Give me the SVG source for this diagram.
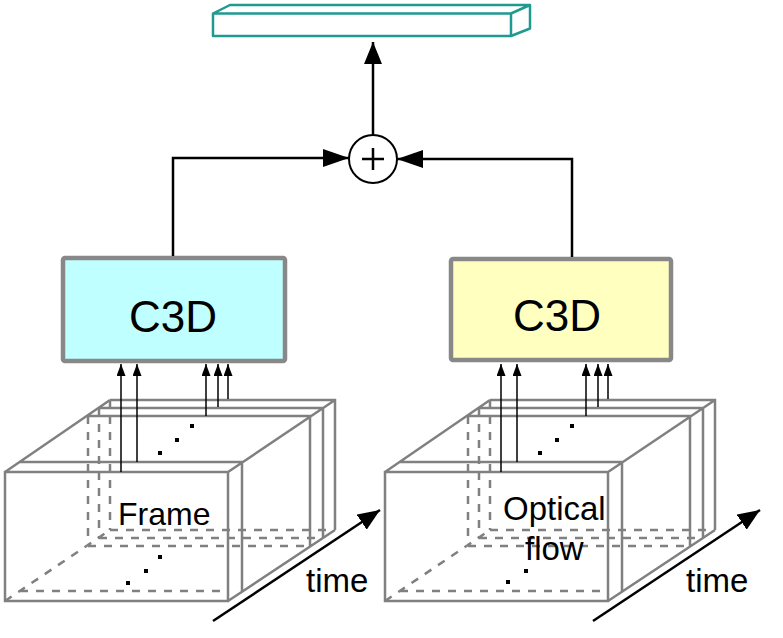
<svg xmlns="http://www.w3.org/2000/svg" xmlns:xlink="http://www.w3.org/1999/xlink" width="783" height="638" viewBox="0 0 783 638">
<style>
.cube{fill:none;stroke:#808080;stroke-width:2.5}
.hid{fill:none;stroke:#808080;stroke-width:2.5;stroke-dasharray:8 8}
.conn{fill:none;stroke:#000;stroke-width:2.5}
.thin{fill:none;stroke:#000;stroke-width:1.5}
.lbl{font-family:"Liberation Sans",Arial,Helvetica,sans-serif;fill:#000}
.dot{fill:#000}
</style>
<defs>
<marker id="big" markerUnits="userSpaceOnUse" markerWidth="28" markerHeight="20" refX="26" refY="9" orient="auto"><path d="M0,0 L26,9 L0,18 Z" fill="#000"/></marker>
<marker id="up" markerUnits="userSpaceOnUse" markerWidth="24" markerHeight="20" refX="22" refY="9" orient="auto"><path d="M0,0 L22,9 L0,18 Z" fill="#000"/></marker>
<marker id="small" markerUnits="userSpaceOnUse" markerWidth="14" markerHeight="10" refX="12" refY="4.5" orient="auto"><path d="M0,0 L12,4.5 L0,9 Z" fill="#000"/></marker>
<g id="cubeShape">
<path class="hid" d="M20,591 H228 M88,546 H310 M99,538 H323 M110,530 H335 M88,416 V546 M99,408 V538 M110,400 V530 M5,601 L110,530"/>
<path class="cube" d="M5,472 H228 V601 H5 Z M20,462 H242 V592 M88,416 H310 V546 M99,408 H323 V538 M110,400 H335 V530 M5,472 L110,400 M228,472 L335,400 M228,601 L335,530"/>
<rect class="dot" x="190" y="424" width="4" height="4"/>
<rect class="dot" x="175" y="438" width="4" height="4"/>
<rect class="dot" x="158" y="451" width="4" height="4"/>
</g>
</defs>

<g id="output-bar">
<path d="M213,13.5 H511 V36 H213 Z M213,13.5 L230,5 H530 L511,13.5 M530,5 V28.5 L511,36" fill="#fff" stroke="#1f9a90" stroke-width="2.5" stroke-linejoin="round"/>
</g>

<g id="sum">
<circle cx="373" cy="159" r="24" fill="#fff" stroke="#000" stroke-width="2"/>
<path d="M362,159 H384 M373,148 V170" stroke="#000" stroke-width="2.5"/>
</g>

<g id="c3d-rgb">
<rect x="63" y="258" width="222" height="103" rx="2" fill="#bfffff" stroke="#888" stroke-width="4.5"/>
<text class="lbl" x="173" y="332" font-size="44" text-anchor="middle">C3D</text>
</g>

<g id="c3d-flow">
<rect x="451" y="259" width="220" height="101" rx="2" fill="#ffffc0" stroke="#888" stroke-width="4.5"/>
<text class="lbl" x="557" y="331" font-size="44" text-anchor="middle">C3D</text>
</g>

<g id="frame-cube">
<use xlink:href="#cubeShape" href="#cubeShape"/>
<rect class="dot" x="158" y="555" width="4" height="4"/>
<rect class="dot" x="144" y="569" width="4" height="4"/>
<rect class="dot" x="126" y="581" width="4" height="4"/>
<text class="lbl" x="118" y="525" font-size="32">Frame</text>
<text class="lbl" x="306" y="592" font-size="33">time</text>
</g>

<g id="flow-cube">
<use xlink:href="#cubeShape" href="#cubeShape" transform="translate(380,0)"/>
<rect class="dot" x="524" y="569" width="4" height="4"/>
<rect class="dot" x="506" y="580" width="4" height="4"/>
<text class="lbl" x="503" y="520" font-size="33">Optical</text>
<text class="lbl" x="525" y="560" font-size="33">flow</text>
<text class="lbl" x="686" y="592" font-size="33">time</text>
</g>

<g id="connectors">
<path class="conn" d="M173,256 V158 H349" marker-end="url(#big)"/>
<path class="conn" d="M572,257 V159 H397" marker-end="url(#big)"/>
<path class="conn" d="M373,135 V42" marker-end="url(#up)"/>
<path class="conn" d="M213,621 L380,510" marker-end="url(#up)"/>
<path class="conn" d="M593,621 L760,510" marker-end="url(#up)"/>
<path class="thin" d="M121,472 V364" marker-end="url(#small)"/>
<path class="thin" d="M137,462 V364" marker-end="url(#small)"/>
<path class="thin" d="M206,416 V364" marker-end="url(#small)"/>
<path class="thin" d="M218,407 V364" marker-end="url(#small)"/>
<path class="thin" d="M228,399 V364" marker-end="url(#small)"/>
<path class="thin" d="M501,472 V364" marker-end="url(#small)"/>
<path class="thin" d="M517,462 V364" marker-end="url(#small)"/>
<path class="thin" d="M586,416 V364" marker-end="url(#small)"/>
<path class="thin" d="M598,407 V364" marker-end="url(#small)"/>
<path class="thin" d="M608,399 V364" marker-end="url(#small)"/>
</g>
</svg>
